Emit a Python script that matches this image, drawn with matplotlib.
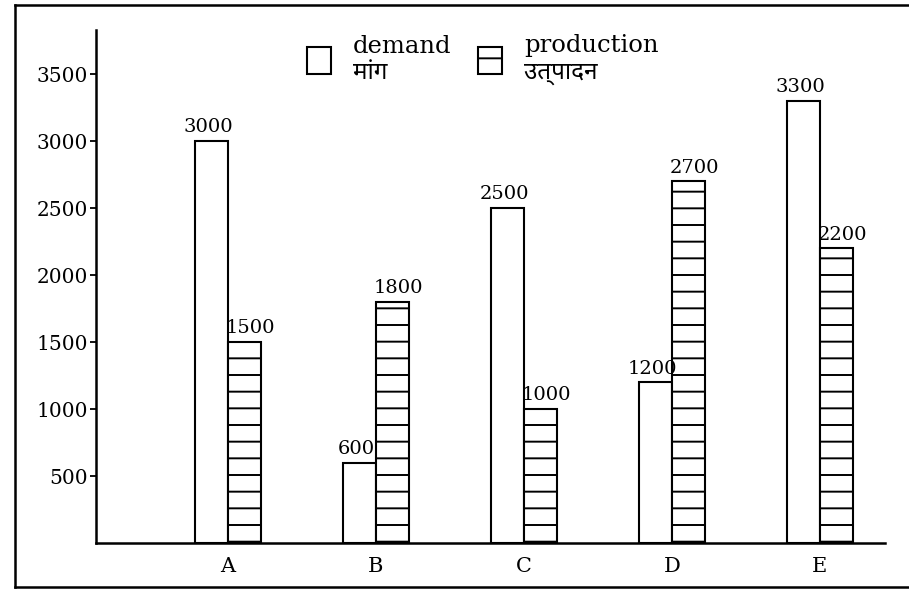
import matplotlib
matplotlib.use("Agg")
import matplotlib.pyplot as plt
import numpy as np
from matplotlib.patches import Patch
from matplotlib.lines import Line2D

categories = ["A", "B", "C", "D", "E"]
demand = [3000, 600, 2500, 1200, 3300]
production = [1500, 1800, 1000, 2700, 2200]
yticks = [500, 1000, 1500, 2000, 2500, 3000, 3500]

plt.rcParams['font.family'] = ['DejaVu Serif', 'Noto Sans', 'DejaVu Sans']
plt.rcParams['hatch.linewidth'] = 1.4

fig = plt.figure(figsize=(9.09, 5.91), dpi=100)
ax = fig.add_axes([0.1056, 0.081, 0.868, 0.868])

x = np.arange(len(categories))
w = 0.225
b1 = ax.bar(x, demand, width=-w, align='edge', color='white', edgecolor='black', linewidth=1.5)
b2 = ax.bar(x, production, width=w, align='edge', color='white', edgecolor='black',
            linewidth=1.5, hatch='-')

for xi, v in zip(x, demand):
    ax.text(xi - w/2 - 0.02, v + 35, str(v), ha='center', va='bottom', fontsize=14)
for xi, v in zip(x, production):
    ax.text(xi + w/2 + 0.04, v + 35, str(v), ha='center', va='bottom', fontsize=14)

ax.set_xlim(-0.892, 4.44)
ax.set_ylim(0, 3828)
ax.set_yticks(yticks)
ax.set_yticklabels([str(t) for t in yticks], fontsize=14.5)
ax.set_xticks(x)
ax.set_xticklabels(categories, fontsize=15)
ax.tick_params(axis='x', length=0, pad=10)
ax.tick_params(axis='y', length=4, width=1.3, pad=2)
ax.spines['top'].set_visible(False)
ax.spines['right'].set_visible(False)
ax.spines['left'].set_linewidth(1.8)
ax.spines['bottom'].set_linewidth(1.8)

handles = [Patch(facecolor='white', edgecolor='black', linewidth=1.5),
           Patch(facecolor='white', edgecolor='black', linewidth=1.5, hatch='-')]
ax.legend(handles, ["demand\nमांग", "production\nउत्पादन"], ncol=2, frameon=False,
          loc='upper center', bbox_to_anchor=(0.49, 1.035), fontsize=17.5,
          handlelength=1.0, handleheight=1.3, columnspacing=1.1, handletextpad=0.9,
          labelspacing=0.2)

# scanned page frame
lc = dict(color='black', linewidth=1.8, transform=fig.transFigure)
fig.add_artist(Line2D([0.0165, 0.0165], [0.007, 0.992], **lc))
fig.add_artist(Line2D([0.0165, 1.0], [0.992, 0.992], **lc))
fig.add_artist(Line2D([0.0165, 1.0], [0.007, 0.007], **lc))

fig.savefig("out.png", dpi=100)
